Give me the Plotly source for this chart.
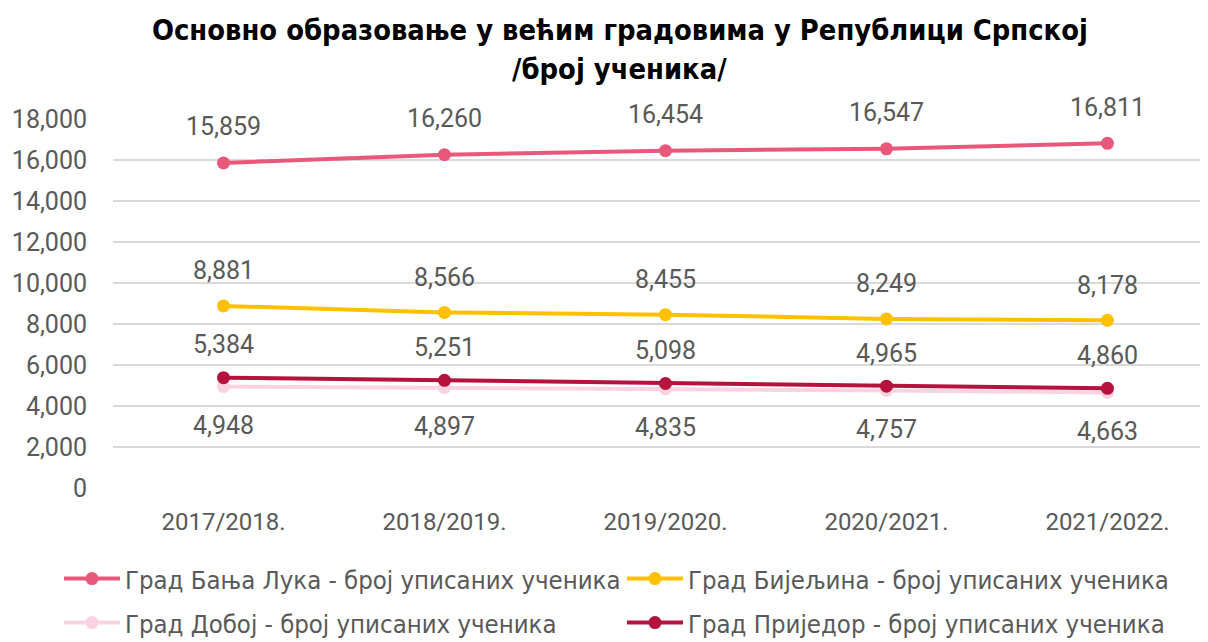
import plotly.graph_objects as go

categories = ["2017/2018.", "2018/2019.", "2019/2020.", "2020/2021.", "2021/2022."]
banja_luka = [15859, 16260, 16454, 16547, 16811]
bijeljina = [8881, 8566, 8455, 8249, 8178]
doboj = [4948, 4897, 4835, 4757, 4663]
prijedor = [5384, 5251, 5098, 4965, 4860]

title_lines = ["Основно образовање у већим градовима у Републици Српској", "/број ученика/"]

W, H = 1200, 634  # page has an 8px body margin

series = [
    ("Град Бања Лука - број уписаних ученика", banja_luka, "#E9587B", 36, "legend"),
    ("Град Бијељина - број уписаних ученика", bijeljina, "#FFC000", 35, "legend2"),
    ("Град Добој - број уписаних ученика", doboj, "#FAD3E3", -39, "legend3"),
    ("Град Приједор - број уписаних ученика", prijedor, "#B5123D", 33, "legend4"),
]

fig = go.Figure()
x_idx = list(range(len(categories)))
for name, vals, color, shift, leg in series:
    fig.add_trace(go.Scatter(
        x=x_idx, y=vals, name=name, mode="lines+markers",
        line=dict(color=color, width=4),
        marker=dict(color=color, size=13),
        legend=leg,
    ))
    for xi, v in zip(x_idx, vals):
        fig.add_annotation(x=xi, y=v, text=f"{v:,}", showarrow=False,
                           yshift=shift, font=dict(size=25, color="#595959"))

title_font = dict(family="DejaVu Sans Condensed, Roboto, sans-serif", size=28.8, color="#000000")
fig.add_annotation(xref="paper", yref="paper", x=0.463, y=1.241, text="<b>" + title_lines[0] + "</b>",
                   showarrow=False, xanchor="center", yanchor="middle", font=title_font)
fig.add_annotation(xref="paper", yref="paper", x=0.463, y=1.136, text="<b>" + title_lines[1] + "</b>",
                   showarrow=False, xanchor="center", yanchor="middle", font=title_font)

leg_font = dict(family="DejaVu Sans Condensed, Roboto, sans-serif", size=25.5, color="#595959")
common_leg = dict(orientation="h", xref="container", yref="container", xanchor="left",
                  yanchor="middle", font=leg_font, itemwidth=56, bgcolor="rgba(0,0,0,0)")

fig.update_layout(
    width=W, height=H,
    paper_bgcolor="white", plot_bgcolor="white",
    margin=dict(l=105, r=0, t=111, b=154, autoexpand=False),
    font=dict(family="Roboto, DejaVu Sans, sans-serif", color="#595959"),
    xaxis=dict(
        tickmode="array", tickvals=x_idx, ticktext=categories,
        range=[-0.5, 4.455], showgrid=False, zeroline=False,
        showline=False, ticks="", tickfont=dict(size=24, color="#595959"),
        ticklabelstandoff=17,
    ),
    yaxis=dict(
        range=[0, 18000], dtick=2000, tickformat=",",
        showgrid=True, gridcolor="#D9D9D9", gridwidth=1.5,
        zeroline=False, showline=False, ticks="",
        tickfont=dict(size=25, color="#595959"), ticklabelstandoff=25,
    ),
    legend=dict(x=51 / W, y=1 - 571 / H, **common_leg),
    legend2=dict(x=614 / W, y=1 - 571 / H, **common_leg),
    legend3=dict(x=51 / W, y=1 - 615 / H, **common_leg),
    legend4=dict(x=614 / W, y=1 - 615 / H, **common_leg),
    showlegend=True,
)

fig.write_html("out.html")
